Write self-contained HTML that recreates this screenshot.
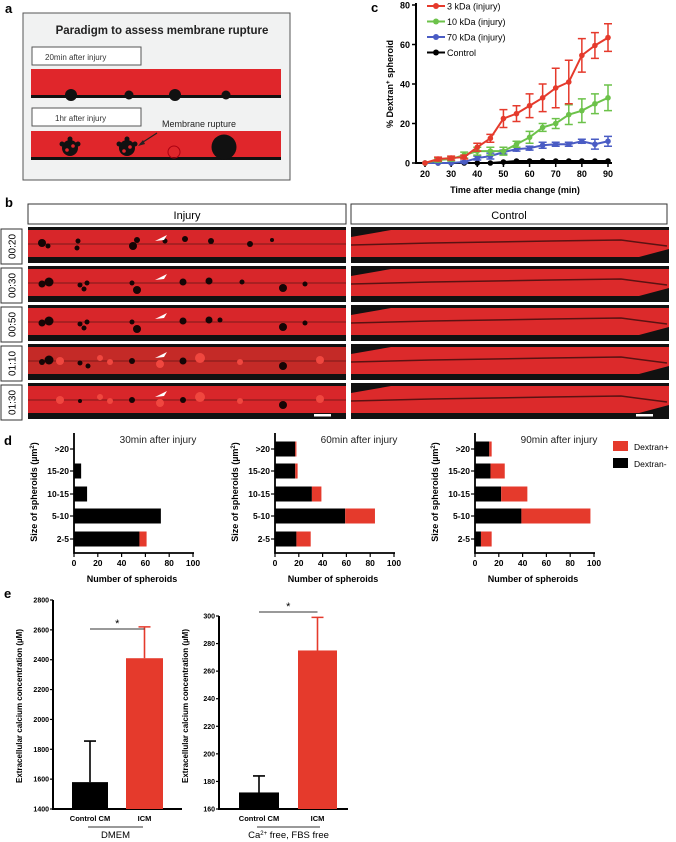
<!DOCTYPE html>
<html><head><meta charset="utf-8">
<style>
html,body{margin:0;padding:0;background:#fff;}
body{width:676px;height:842px;position:relative;overflow:hidden;font-family:"Liberation Sans",Arial,sans-serif;}
svg{position:absolute;left:0;top:0;}
</style></head>
<body>
<svg id="fig" width="676" height="842" viewBox="0 0 676 842" xmlns="http://www.w3.org/2000/svg" font-family="Liberation Sans, Arial, sans-serif">
<!-- Panel a -->
<g>
  <text x="5" y="13" font-size="13" font-weight="bold">a</text>
  <rect x="23" y="13" width="267" height="167" fill="#f1f2f2" stroke="#555" stroke-width="1"/>
  <text x="162" y="34" font-size="11.5" font-weight="bold" text-anchor="middle" fill="#222">Paradigm to assess membrane rupture</text>
  <rect x="32" y="47" width="109" height="18" fill="#fff" stroke="#555"/>
  <text x="45" y="60" font-size="8" fill="#333">20min after injury</text>
  <rect x="31" y="69" width="250" height="29" fill="#e0262b"/>
  <rect x="31" y="95" width="250" height="3" fill="#111"/>
  <circle cx="71" cy="95" r="6" fill="#111"/><circle cx="129" cy="95" r="4.5" fill="#111"/>
  <circle cx="175" cy="95" r="6" fill="#111"/><circle cx="226" cy="95" r="4.5" fill="#111"/>
  <rect x="32" y="108" width="109" height="18" fill="#fff" stroke="#555"/>
  <text x="55" y="121" font-size="8" fill="#333">1hr after injury</text>
  <text x="162" y="127" font-size="9" fill="#222">Membrane rupture</text>
  <rect x="31" y="131" width="250" height="29" fill="#e0262b"/>
  <rect x="31" y="157" width="250" height="3" fill="#111"/>
  <g fill="#111"><circle cx="70" cy="148" r="8"/><circle cx="127" cy="148" r="8"/></g>
  <g fill="#111"><circle cx="70" cy="139" r="2.5"/><circle cx="78" cy="144" r="2.5"/><circle cx="62" cy="144" r="2.5"/><circle cx="127" cy="139" r="2.5"/><circle cx="135" cy="144" r="2.5"/><circle cx="119" cy="144" r="2.5"/></g>
  <g fill="#e0262b"><circle cx="67" cy="150" r="1.8"/><circle cx="73" cy="146" r="1.8"/><circle cx="124" cy="151" r="1.8"/><circle cx="130" cy="147" r="1.8"/></g>
  <circle cx="174" cy="152" r="6" fill="none" stroke="#a01" stroke-width="1"/>
  <circle cx="224" cy="147" r="12.5" fill="#111"/>
  <line x1="157" y1="133" x2="140" y2="144" stroke="#222" stroke-width="1.2"/>
  <polygon points="138,146 143,140 145,144" fill="#222"/>
</g>
<!-- Panel b -->
<g id="panelB">
  <text x="5" y="207" font-size="13" font-weight="bold">b</text>
  <rect x="28" y="204" width="318" height="20" fill="#fff" stroke="#333"/>
  <text x="187" y="219" font-size="11" text-anchor="middle">Injury</text>
  <rect x="351" y="204" width="316" height="20" fill="#fff" stroke="#333"/>
  <text x="509" y="219" font-size="11" text-anchor="middle">Control</text>
</g>
<!-- Panel c -->
<g id="panelC">
  <text x="371" y="12" font-size="13" font-weight="bold">c</text>
</g>
<!-- Panel d -->
<g id="panelD">
  <text x="4" y="445" font-size="13" font-weight="bold">d</text>
  <rect x="613" y="441" width="15" height="10" fill="#e53a2c"/>
  <text x="634" y="450" font-size="8.5">Dextran+</text>
  <rect x="613" y="458" width="15" height="10" fill="#000"/>
  <text x="634" y="467" font-size="8.5">Dextran-</text>
</g>
<!-- Panel e -->
<g id="panelE">
  <text x="4" y="598" font-size="13" font-weight="bold">e</text>
</g>
</svg>
<script>
const NS="http://www.w3.org/2000/svg";
function mk(parent,tag,attrs,text){const e=document.createElementNS(NS,tag);for(const k in attrs)e.setAttribute(k,attrs[k]);if(text!==undefined)e.textContent=text;parent.appendChild(e);return e;}

// ---------- Panel c data ----------
const cTimes=[20,25,30,35,40,45,50,55,60,65,70,75,80,85,90];
const c3kDa=[0,2,2.5,3,8,12.5,22.5,25,29,33,38,41,54.5,59.5,63.5];
const c3kDaErr=[0,1,1,1,2,2,4.5,4,6,7,10,11,8.5,6.5,7];
const c10kDa=[0,1.5,2,4,6,6,6,9.5,13,18,20,24.5,26.5,30,33];
const c10kDaErr=[0,1,1,1.5,2,2,2,1.5,3,2,2.5,5,6,5,6.5];
const c70kDa=[0,0,0,0.5,2.5,3.5,5.5,7,7.5,9,9.5,9.5,11,9.5,11];
const c70kDaErr=[0,0,0,0.5,1,1.5,1,1,1,1.5,1,1,1,2.5,2.5];
const cControl=[0,0,0,0,0,0,0.5,1,1,1,1,1,1,1,1];
const cYTicks=[0,20,40,60,80];
const cXTicks=[20,30,40,50,60,70,80,90];
const cSeriesNames=["3 kDa (injury)","10 kDa (injury)","70 kDa (injury)","Control"];

// ---------- Panel d data ----------
const dCategories=[">20","15-20","10-15","5-10","2-5"];
const d30Neg=[0,6,11,73,55];
const d30Pos=[0,0,0,0,6];
const d60Neg=[17,17,31,59,18];
const d60Pos=[1,2,8,25,12];
const d90Neg=[12,13,22,39,5];
const d90Pos=[2,12,22,58,9];
const dXTicks=[0,20,40,60,80,100];
const dTitles=["30min after injury","60min after injury","90min after injury"];

// ---------- Panel e data ----------
const eGroups=["Control CM","ICM"];
const eDmemMean=[1580,2410];
const eDmemErr=[275,210];
const eDmemTicks=[1400,1600,1800,2000,2200,2400,2600,2800];
const eCaMean=[172,275];
const eCaErr=[12,24];
const eCaTicks=[160,180,200,220,240,260,280,300];

// ---------- Panel b (microscopy) ----------
(function(){
  const g=document.getElementById('panelB');
  const times=["00:20","00:30","00:50","01:10","01:30"];
  const rows=[227,266,305,344,383];
  const dots=[[[42,243,4],[48,246,2.5],[78,241,2.5],[77,248,2.5],[133,246,4],[137,240,3],[165,241,2.5],[185,239,3],[211,241,3],[250,244,3],[272,240,2]],
  [[42,284,3.5],[49,282,4.5],[80,285,2.5],[87,283,2.5],[84,289,2.5],[132,283,2.5],[137,290,4],[183,282,3.5],[209,281,3.5],[242,282,2.5],[283,288,4],[305,284,2.5]],
  [[42,323,3.5],[49,321,4.5],[80,324,2.5],[87,322,2.5],[84,328,2.5],[132,322,2.5],[137,329,4],[183,321,3.5],[209,320,3.5],[220,320,2.5],[283,327,4],[305,323,2.5]],
  [[42,362,3],[49,360,4.5],[80,363,2.5],[88,366,2.5],[132,361,3],[183,361,3.5],[283,366,4]],
  [[80,401,2],[132,400,3],[183,400,3],[283,405,4]]];
  times.forEach((t,i)=>{
    const y=rows[i];
    const box=mk(g,'rect',{x:1,y:y+2,width:21,height:35,fill:'#fff',stroke:'#333'});
    
    
    const tx=mk(g,'text',{x:0,y:0,'font-size':'10','text-anchor':'middle',transform:`translate(15.5,${y+19.5}) rotate(-90)`},t);
    
    
    [[28,318,'injury'],[351,318,'control']].forEach(([x,w,kind])=>{
      const im=mk(g,'g',{});
      
      
      mk(im,'rect',{x:x,y:y,width:w,height:36,fill:'#111'});
      const rf=kind==='injury'?(i===3?'#c42a27':'#d8262a'):'#dc2a2b';
      mk(im,'rect',{x:x,y:y+3,width:w,height:27,fill:rf});
      if(kind==='control'){
        mk(im,'polygon',{points:`${x},${y+3} ${x+40},${y+3} ${x},${y+10}`,fill:'#111'});
        mk(im,'polyline',{points:`${x},${y+18} ${x+80},${y+16} ${x+200},${y+14} ${x+270},${y+13} ${x+316},${y+19}`,fill:'none',stroke:'#5a1212','stroke-width':1.5});
        mk(im,'polygon',{points:`${x+w},${y+22} ${x+w},${y+30} ${x+w-30},${y+30}`,fill:'#111'});
      }else{
        mk(im,'line',{x1:x,y1:y+17,x2:x+w,y2:y+17,stroke:'#7a1a1a','stroke-width':1});
        dots[i].forEach(d=>mk(im,'circle',{cx:d[0]+0,cy:d[1],r:d[2],fill:'#150505'}));
        if(i>=3){[[60,y+17,4],[100,y+14,3],[110,y+18,3],[160,y+20,4],[200,y+14,5],[240,y+18,3],[320,y+16,4]].forEach(d=>mk(im,'circle',{cx:d[0],cy:d[1],r:d[2],fill:'#f0473f'}));}
        const ax=155, ay=y+14;
        mk(im,'polygon',{points:`${ax},${ay} ${ax+12},${ay-6} ${ax+9},${ay-1}`,fill:'#fff'});
      }
    });
  });
  const sb1=mk(g,'rect',{x:314,y:414,width:17,height:2.5,fill:'#fff'});
  
  
  const sb2=mk(g,'rect',{x:636,y:414,width:17,height:2.5,fill:'#fff'});
  
  
})();

// ---------- Panel c drawing ----------
(function(){
  const g=document.getElementById('panelC');
  const X=v=>425+(v-20)*(183/70);
  const Y=v=>163-v*(158/80);
  const ax=mk(g,'path',{d:`M416,3 L416,163 L612,163`,fill:'none',stroke:'#000','stroke-width':2});
  
  
  cYTicks.forEach(v=>{
    mk(g,'line',{x1:412,y1:Y(v),x2:416,y2:Y(v),stroke:'#000','stroke-width':1.5});
    const t=mk(g,'text',{x:410,y:Y(v)+3.5,'font-size':'9','font-weight':'bold','text-anchor':'end'},v);
    
    
  });
  cXTicks.forEach(v=>{
    mk(g,'line',{x1:X(v),y1:163,x2:X(v),y2:167,stroke:'#000','stroke-width':1.5});
    const t=mk(g,'text',{x:X(v),y:177,'font-size':'9','font-weight':'bold','text-anchor':'middle'},v);
    
    
  });
  const xt=mk(g,'text',{x:515,y:193,'font-size':'9','font-weight':'bold','text-anchor':'middle'},'Time after media change (min)');
  
  
  const yt=mk(g,'text',{x:0,y:0,'font-size':'9','font-weight':'bold','text-anchor':'middle',transform:'translate(393,84) rotate(-90)'});
  
  
  yt.appendChild(document.createTextNode('% Dextran'));
  mk(yt,'tspan',{'baseline-shift':'super','font-size':'6'},'+');
  yt.appendChild(document.createTextNode(' spheroid'));
  const series=[[cControl,null,'#000'],[c70kDa,c70kDaErr,'#4a5cc4'],[c10kDa,c10kDaErr,'#6cc24a'],[c3kDa,c3kDaErr,'#e53a2c']];
  const names=['series-control','series-70kda','series-10kda','series-3kda'];
  series.forEach(([vals,err,col],si)=>{
    const sg=mk(g,'g',{});
    
    
    if(err){vals.forEach((v,i)=>{if(err[i]>0){const x=X(cTimes[i]);mk(sg,'path',{d:`M${x},${Y(v-err[i])}L${x},${Y(v+err[i])}M${x-4},${Y(v+err[i])}L${x+4},${Y(v+err[i])}M${x-4},${Y(v-err[i])}L${x+4},${Y(v-err[i])}`,stroke:col,'stroke-width':1.5,fill:'none'});}});}
    mk(sg,'polyline',{points:vals.map((v,i)=>X(cTimes[i])+','+Y(v)).join(' '),fill:'none',stroke:col,'stroke-width':2});
    vals.forEach((v,i)=>{const p=mk(sg,'circle',{cx:X(cTimes[i]),cy:Y(v),r:2.8,fill:col});});
  });
  const legCols=['#e53a2c','#6cc24a','#4a5cc4','#000'];
  cSeriesNames.forEach((n,i)=>{
    const y=6+i*15.5;
    const lg=mk(g,'g',{});
    
    
    mk(lg,'line',{x1:427,y1:y,x2:445,y2:y,stroke:legCols[i],'stroke-width':2});
    mk(lg,'circle',{cx:436,cy:y,r:3,fill:legCols[i]});
    mk(lg,'text',{x:447,y:y+3.5,'font-size':'9'},n);
  });
})();

// ---------- Panel d drawing ----------
(function(){
  const g=document.getElementById('panelD');
  const charts=[[74,d30Neg,d30Pos],[275,d60Neg,d60Pos],[475,d90Neg,d90Pos]];
  const rowY=[449,471,494,516,539];
  charts.forEach(([x0,neg,pos],ci)=>{
    const cg=mk(g,'g',{});
    
    
    const X=v=>x0+v*1.19;
    mk(cg,'path',{d:`M${x0},433 L${x0},553 L${X(100)+1},553`,fill:'none',stroke:'#000','stroke-width':1.8});
    dXTicks.forEach(v=>{
      mk(cg,'line',{x1:X(v),y1:553,x2:X(v),y2:557,stroke:'#000','stroke-width':1.2});
      const t=mk(cg,'text',{x:X(v),y:566,'font-size':'8.5','font-weight':'bold','text-anchor':'middle'},v);
      
      
    });
    dCategories.forEach((c,i)=>{
      const y=rowY[i];
      mk(cg,'line',{x1:x0-4,y1:y,x2:x0,y2:y,stroke:'#000','stroke-width':1.2});
      const t=mk(cg,'text',{x:x0-5,y:y+3,'font-size':'8.5','font-weight':'bold','text-anchor':'end'},c);
      
      
      if(neg[i]>0){const b=mk(cg,'rect',{x:x0,y:y-7.5,width:X(neg[i])-x0,height:15,fill:'#000'});}
      if(pos[i]>0){const b=mk(cg,'rect',{x:X(neg[i]),y:y-7.5,width:X(neg[i]+pos[i])-X(neg[i]),height:15,fill:'#e53a2c'});}
    });
    const tt=mk(cg,'text',{x:x0+84,y:443,'font-size':'10','text-anchor':'middle',fill:'#222'},dTitles[ci]);
    
    
    const xt=mk(cg,'text',{x:x0+58,y:582,'font-size':'9','font-weight':'bold','text-anchor':'middle'},'Number of spheroids');
    
    
    const yt=mk(cg,'text',{x:0,y:0,'font-size':'9','font-weight':'bold','text-anchor':'middle',transform:`translate(${x0-37},492) rotate(-90)`});
    
    
    yt.appendChild(document.createTextNode('Size of spheroids (µm'));
    mk(yt,'tspan',{'baseline-shift':'super','font-size':'6'},'2');
    yt.appendChild(document.createTextNode(')'));
  });
})();

// ---------- Panel e drawing ----------
(function(){
  const g=document.getElementById('panelE');
  const charts=[
    {ax:53,end:182,yTop:600,ticks:eDmemTicks,mean:eDmemMean,err:eDmemErr,bars:[[72,108],[126,163]],sig:[90,143,629],cond:'DMEM',condLine:[88,143],lblX:22},
    {ax:219,end:348,yTop:616,ticks:eCaTicks,mean:eCaMean,err:eCaErr,bars:[[239,279],[298,337]],sig:[202,246,612],cond:'',condLine:[257,320],lblX:188}
  ];
  charts.forEach((c,ci)=>{
    const cg=mk(g,'g',{});
    
    
    const lo=c.ticks[0],hi=c.ticks[c.ticks.length-1];
    const Y=v=>809-(v-lo)*(809-c.yTop)/(hi-lo);
    mk(cg,'path',{d:`M${c.ax},${c.yTop} L${c.ax},809 L${c.end},809`,fill:'none',stroke:'#000','stroke-width':2});
    c.ticks.forEach(v=>{
      mk(cg,'line',{x1:c.ax-3,y1:Y(v),x2:c.ax,y2:Y(v),stroke:'#000','stroke-width':1.2});
      const t=mk(cg,'text',{x:c.ax-4,y:Y(v)+2.5,'font-size':'7','font-weight':'bold','text-anchor':'end'},v);
      
      
    });
    const cols=['#000','#e53a2c'];
    c.mean.forEach((m,i)=>{
      const [x1,x2]=c.bars[i];const cx=(x1+x2)/2;
      const eb=mk(cg,'path',{d:`M${cx},${Y(m)} L${cx},${Y(m+c.err[i])} M${cx-6},${Y(m+c.err[i])} L${cx+6},${Y(m+c.err[i])}`,stroke:cols[i],'stroke-width':1.6,fill:'none'});
      
      
      const b=mk(cg,'rect',{x:x1,y:Y(m),width:x2-x1,height:809-Y(m),fill:cols[i]});
      
      
      const t=mk(cg,'text',{x:cx,y:821,'font-size':'7.5','font-weight':'bold','text-anchor':'middle'},eGroups[i]);
      
      
    });
    const sx1=(c.bars[0][0]+c.bars[0][1])/2, sx2=(c.bars[1][0]+c.bars[1][1])/2;
    const sy=ci===0?629:612;
    mk(cg,'line',{x1:sx1,y1:sy,x2:sx2,y2:sy,stroke:'#333','stroke-width':1});
    const st=mk(cg,'text',{x:(sx1+sx2)/2,y:sy-2,'font-size':'11','text-anchor':'middle'},'*');
    
    
    mk(cg,'line',{x1:c.condLine[0],y1:827,x2:c.condLine[1],y2:827,stroke:'#333','stroke-width':1});
    const ct=mk(cg,'text',{x:(c.condLine[0]+c.condLine[1])/2,y:838,'font-size':'9.5','text-anchor':'middle'});
    
    
    if(ci===0){ct.textContent='DMEM';}
    else{ct.appendChild(document.createTextNode('Ca'));mk(ct,'tspan',{'baseline-shift':'super','font-size':'6'},'2+');ct.appendChild(document.createTextNode(' free, FBS free'));}
    const yt=mk(cg,'text',{x:0,y:0,'font-size':'8','font-weight':'bold','text-anchor':'middle',transform:`translate(${c.lblX},706) rotate(-90)`},'Extracellular calcium concentration (µM)');
    
    
  });
})();
</script>
</body></html>
